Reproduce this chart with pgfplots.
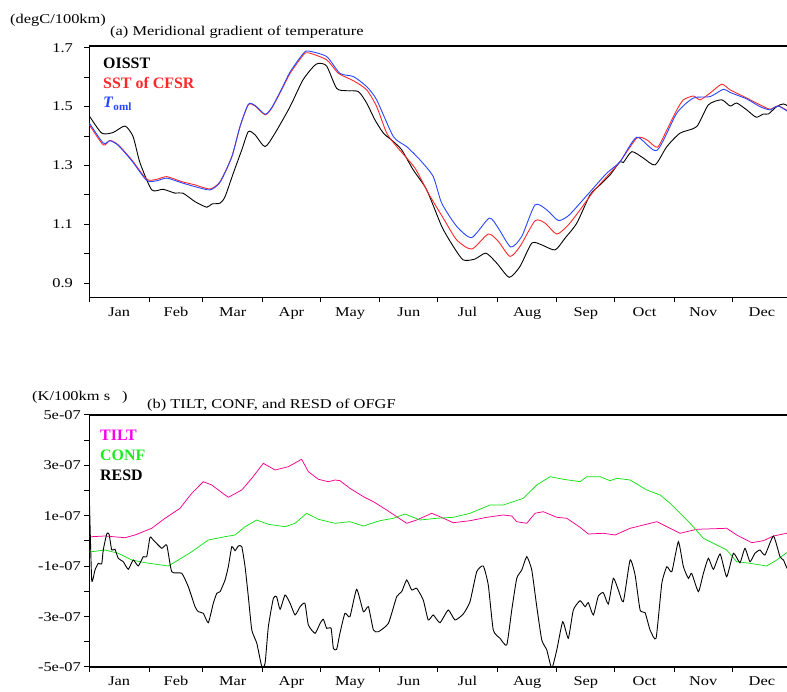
\documentclass[border=0pt]{standalone}
\usepackage{pgfplots}
\pgfplotsset{compat=1.18}
\usepackage{fontspec}
\setmainfont{Liberation Serif}
\newfontfamily\wide[FakeStretch=1.22]{Liberation Serif}
\definecolor{cblue}{RGB}{40,70,255}
\definecolor{cred}{RGB}{255,40,40}
\definecolor{ctilt}{RGB}{245,0,140}
\definecolor{cconf}{RGB}{20,225,20}
\definecolor{ltilt}{RGB}{255,0,230}
\definecolor{lconf}{RGB}{30,235,30}
\pgfplotsset{
 common/.style={
  scale only axis, width=702.3bp,
  xmin=0, xmax=365,
  xtick={0,31,59,90,120,151,181,212,243,273,304,334,365},
  xticklabels={Jan,Feb,Mar,Apr,May,Jun,Jul,Aug,Sep,Oct,Nov,Dec},
  x tick label as interval,
  xtick pos=left, ytick pos=left,
  tick align=outside,
  major tick length=5bp, minor tick length=5bp,
  axis line style={line width=1.2bp},
  every tick/.style={black, line width=1bp},
  tick label style={font=\wide\fontsize{13.5}{15}\selectfont},
  /pgf/number format/assume math mode=true,
  xticklabel style={anchor=base, yshift=-14bp},
 }
}
\begin{document}
\begin{tikzpicture}[x=1bp,y=1bp]
\useasboundingbox (0,0) rectangle (787,692);
\clip (0,0) rectangle (787,692);
% ---------- panel (a)
\begin{axis}[common, at={(89.4bp,394.7bp)}, anchor=south west, height=251.3bp,
  ymin=0.852, ymax=1.706, ytick={0.9,1.1,1.3,1.5,1.7},
  yticklabels={0.9,1.1,1.3,1.5,1.7}, minor ytick={1.0,1.2,1.4,1.6},
  yticklabel style={xshift=-8bp}]
\addplot[black, line width=0.9bp, smooth, tension=0.4] coordinates {
(0,1.468)(6.4,1.410)(12.3,1.412)(18.5,1.434)(22.7,1.398)(26.3,1.309)(32.4,1.217)(38.3,1.219)
(44.5,1.206)(48.6,1.206)(54.9,1.177)(61.0,1.158)(63.6,1.169)(67.9,1.172)(70.5,1.194)(74.8,1.274)
(79.2,1.353)(82.6,1.415)(86.1,1.404)(91.3,1.364)(96.5,1.410)(103.4,1.489)(106.0,1.523)(111.0,1.591)
(116.4,1.636)(119.0,1.647)(123.3,1.638)(128.5,1.562)(133.7,1.554)(139.8,1.551)(144.1,1.512)(148.4,1.455)
(152.8,1.410)(158.0,1.381)(162.3,1.353)(168.3,1.285)(175.3,1.217)(183.1,1.093)(189.1,1.025)(194.3,0.979)
(200.4,0.982)(206.1,1.002)(211.7,0.968)(218.2,0.920)(223.8,0.957)(229.9,1.036)(235.1,1.030)(242.0,1.013)
(247.2,1.053)(253.3,1.104)(260.2,1.200)(265.4,1.234)(270.6,1.268)(275.8,1.313)(277.5,1.310)(281.9,1.347)
(287.9,1.325)(294.0,1.302)(300.1,1.364)(307.0,1.410)(315.6,1.432)(321.7,1.506)(328.6,1.523)(333.0,1.502)
(336.4,1.512)(341.6,1.489)(346.5,1.464)(350.3,1.475)(352.9,1.475)(357.2,1.500)(360.7,1.509)(365,1.495)};
\addplot[cred, line width=0.9bp, smooth, tension=0.4] coordinates {
(0,1.438)(7.2,1.370)(10.7,1.385)(15.0,1.370)(22.0,1.319)(29.8,1.253)(35.0,1.253)(40.2,1.262)
(48.0,1.245)(54.9,1.234)(62.7,1.220)(67.9,1.245)(74.0,1.330)(78.3,1.432)(82.6,1.506)(86.1,1.502)
(91.3,1.472)(94.8,1.495)(99.9,1.557)(104.3,1.613)(111.2,1.676)(113.8,1.683)(123.3,1.659)(129.4,1.613)
(137.2,1.588)(144.1,1.557)(149.3,1.500)(154.5,1.410)(159.7,1.364)(169.2,1.291)(176.1,1.206)(183.9,1.121)
(190.9,1.047)(198.7,1.016)(207.3,1.067)(212.5,1.042)(218.6,0.991)(223.8,1.025)(231.6,1.112)(236.8,1.104)
(242.9,1.067)(248.9,1.098)(255.0,1.149)(261.9,1.211)(268.9,1.262)(275.8,1.313)(284.5,1.393)(289.7,1.387)
(295.2,1.362)(300.1,1.421)(305.3,1.489)(308.7,1.523)(313.9,1.536)(317.4,1.523)(322.6,1.546)(328.6,1.576)
(333.0,1.557)(341.6,1.529)(348.5,1.506)(353.7,1.491)(358.1,1.502)(365,1.478)};
\addplot[cblue, line width=0.9bp, smooth, tension=0.4] coordinates {
(0,1.444)(7.2,1.376)(10.7,1.384)(15,1.368)(22,1.316)(29.8,1.249)(35,1.248)(40.2,1.257)
(48,1.241)(54.9,1.228)(62.7,1.217)(67.9,1.243)(74,1.329)(78.3,1.433)(82.6,1.508)(86.1,1.504)
(91.3,1.474)(94.8,1.497)(99.9,1.560)(104.3,1.618)(111.2,1.681)(113.8,1.689)(123.3,1.670)(130.2,1.613)
(137.2,1.602)(144.1,1.568)(149.3,1.523)(158.0,1.398)(164.9,1.364)(171.8,1.319)(178.7,1.262)(183.1,1.172)
(190.9,1.093)(198.7,1.055)(207.8,1.121)(212.5,1.087)(219.0,1.023)(224.7,1.059)(231.6,1.166)(237.7,1.149)
(243.7,1.113)(248.9,1.129)(255.0,1.172)(261.1,1.217)(268.9,1.274)(275.8,1.313)(284.5,1.396)(294.9,1.351)
(305.3,1.478)(313.9,1.529)(322.6,1.534)(329.5,1.559)(333.0,1.548)(341.6,1.526)(348.5,1.500)(353.7,1.489)
(358.1,1.502)(365,1.474)};
\end{axis}
% ---------- panel (b)  (values in units of 1e-07)
\begin{axis}[common, at={(89.4bp,25bp)}, anchor=south west, height=252bp,
  ymin=-5, ymax=5, ytick={-5,-3,-1,1,3,5},
  yticklabels={-5e-07,-3e-07,-1e-07,1e-07,3e-07,5e-07}, minor ytick={-4,-2,0,2,4}]
\addplot[ctilt, line width=0.75bp] coordinates {
(0,0.17)(1.2,0.171)(8.1,0.198)(18.5,0.131)(23.7,0.238)(32.4,0.504)(39.3,0.901)(47.1,1.298)(53.2,1.893)
(59.2,2.353)(63.6,2.222)(70.5,1.825)(72.2,1.734)(79.2,2.024)(84.4,2.488)(90.4,3.083)(96.5,2.817)
(103.4,2.948)(110.3,3.242)(113.8,2.750)(119.0,2.448)(124.2,2.353)(127.7,2.421)(130.2,2.393)(135.4,2.091)
(142.4,1.758)(147.6,1.560)(154.5,1.230)(159.7,0.964)(164.9,0.702)(170.1,0.833)(177.9,1.099)(182.2,0.964)
(189.1,0.726)(197.8,0.806)(206.5,0.940)(215.1,1.032)(219.5,0.992)(222.1,0.766)(227.3,0.702)(231.6,1.099)
(235.9,1.163)(242.9,0.940)(248.1,0.901)(255.0,0.544)(259.3,0.278)(267.1,0.306)(273.2,0.238)(281.0,0.504)
(294.9,0.766)(300.1,0.567)(307.0,0.306)(315.6,0.464)(331.2,0.504)(336.4,0.238)(344.2,-0.067)(350.3,0.012)
(355.5,0.198)(362.4,0.306)(365,0.32)};
\addplot[cconf, line width=0.75bp] coordinates {
(0,-0.43)(1.2,-0.425)(8.1,-0.357)(15.0,-0.488)(22.0,-0.754)(28.9,-0.861)(41.0,-0.992)(46.2,-0.754)
(53.2,-0.425)(61.8,0.040)(70.5,0.171)(75.7,0.238)(80.9,0.567)(86.9,0.833)(93.0,0.663)(101.7,0.567)
(106.9,0.702)(112.9,1.099)(119.0,0.861)(127.7,0.702)(135.4,0.766)(142.4,0.595)(151.0,0.806)(158.0,0.901)
(164.0,1.071)(171.8,0.833)(180.5,0.901)(189.1,0.940)(197.8,1.099)(208.2,1.429)(215.1,1.429)(225.5,1.694)
(232.5,2.222)(239.4,2.552)(246.3,2.448)(255.0,2.353)(258.5,2.552)(265.4,2.552)(270.6,2.393)(274.1,2.488)
(281.0,2.421)(289.7,2.024)(296.6,1.825)(301.8,1.496)(307.0,1.099)(312.2,0.702)(319.1,0.107)(326.0,-0.159)
(331.2,-0.357)(336.4,-0.821)(343.3,-0.885)(352.0,-0.992)(357.2,-0.754)(362.4,-0.464)(365,-0.4)};
\addplot[black, line width=0.9bp, smooth, tension=0.3] coordinates {
(0,1.627)(1.2,-1.548)(2.9,-1.151)(4.6,-0.885)(6.4,-0.913)(7.2,-0.357)(9.0,0.278)(10.2,0.278)(11.6,-0.357)
(13.3,-0.329)(15.0,-0.687)(17.6,-0.821)(20.2,-1.123)(22.8,-0.754)(25.4,-0.992)(28.0,-0.623)(29.8,-0.623)
(31.5,0.147)(33.2,0.040)(37.6,-0.290)(40.2,-0.159)(42.8,-1.218)(48.0,-1.282)(51.4,-1.813)(54.9,-2.607)
(56.6,-2.806)(59.2,-2.869)(61.8,-3.242)(64.4,-2.472)(66.2,-2.075)(67.9,-2.012)(70.5,-1.548)(72.2,-1.020)
(74.0,-0.226)(75.7,-0.385)(77.4,-0.198)(79.2,-0.226)(80.9,-1.020)(82.6,-2.210)(84.4,-3.532)(87.0,-4.060)
(89.6,-4.988)(91.3,-4.853)(93.0,-3.401)(95.6,-2.274)(97.3,-2.210)(99.1,-2.710)(101.7,-2.143)(104.3,-2.472)
(106.9,-2.937)(109.5,-2.607)(112.0,-2.472)(113.8,-3.333)(117.3,-3.663)(119.9,-3.266)(121.6,-3.107)
(123.3,-3.464)(125.6,-3.464)(126.8,-4.258)(128.5,-4.298)(130.2,-3.663)(132.8,-2.869)(135.4,-3.004)
(138.9,-1.917)(142.4,-2.806)(145.0,-2.607)(147.6,-3.532)(150.2,-3.599)(155.4,-3.266)(159.7,-2.210)
(162.3,-2.012)(164.9,-1.548)(167.5,-1.944)(170.1,-1.877)(173.5,-2.341)(176.1,-3.135)(178.7,-2.937)
(182.2,-3.242)(186.5,-2.738)(190.0,-3.135)(194.3,-2.897)(197.8,-2.409)(201.3,-1.218)(204.7,-0.992)
(207.3,-1.746)(209.9,-3.532)(213.4,-3.861)(216.9,-4.127)(219.5,-2.738)(222.1,-1.480)(224.7,-1.151)
(227.3,-0.623)(229.9,-1.151)(232.5,-2.607)(235.1,-3.929)(237.7,-4.325)(240.3,-5.052)(242.9,-4.325)
(246.0,-3.202)(248.9,-3.861)(251.5,-2.738)(255.0,-2.369)(257.6,-2.607)(259.3,-2.448)(261.9,-2.937)
(264.5,-2.183)(267.1,-2.052)(269.7,-2.500)(272.3,-1.480)(274.9,-1.944)(277.5,-2.409)(281.0,-0.754)
(283.6,-1.349)(286.2,-2.738)(288.8,-2.845)(291.4,-3.532)(294.5,-3.861)(297.5,-1.679)(300.1,-1.020)
(302.7,-1.218)(306.1,-0.028)(308.7,-1.020)(311.3,-1.480)(313.0,-1.282)(316.5,-2.012)(319.1,-1.282)
(321.7,-0.687)(324.3,-1.123)(327.8,-0.516)(331.2,-1.417)(334.7,-0.488)(338.1,-0.861)(340.7,-0.290)
(343.3,-0.821)(345.9,-0.488)(348.5,-0.357)(351.1,-0.556)(355.5,0.198)(358.9,-0.623)(360.7,-0.754)
(362.6,-1.083)(365,-1.2)};
\end{axis}
% ---------- texts
\node[anchor=west, inner sep=0, font=\wide\fontsize{13.5}{15}\selectfont] at (10,672) {(degC/100km)};
\node[anchor=west, inner sep=0, font=\wide\fontsize{13.5}{15}\selectfont] at (110,660) {(a) Meridional gradient of temperature};
\node[anchor=west, inner sep=0, font=\wide\fontsize{13.5}{15}\selectfont] at (32,295) {(K/100km s\hspace{0.9em})};
\node[anchor=west, inner sep=0, font=\wide\fontsize{13.5}{15}\selectfont] at (147,287) {(b) TILT, CONF, and RESD of OFGF};
\node[anchor=west, inner sep=0, font=\bfseries\fontsize{16}{18}\selectfont, text=black] at (103,628.5) {OISST};
\node[anchor=west, inner sep=0, font=\bfseries\fontsize{16}{18}\selectfont, text=cred] at (103,609) {SST of CFSR};
\node[anchor=west, inner sep=0, font=\bfseries\fontsize{16}{18}\selectfont, text=cblue] at (103,588) {\textit{T}\textsubscript{oml}};
\node[anchor=west, inner sep=0, font=\bfseries\fontsize{16}{18}\selectfont, text=ltilt] at (100,257) {TILT};
\node[anchor=west, inner sep=0, font=\bfseries\fontsize{16}{18}\selectfont, text=lconf] at (100,237) {CONF};
\node[anchor=west, inner sep=0, font=\bfseries\fontsize{16}{18}\selectfont, text=black] at (100,217) {RESD};
\end{tikzpicture}
\end{document}
